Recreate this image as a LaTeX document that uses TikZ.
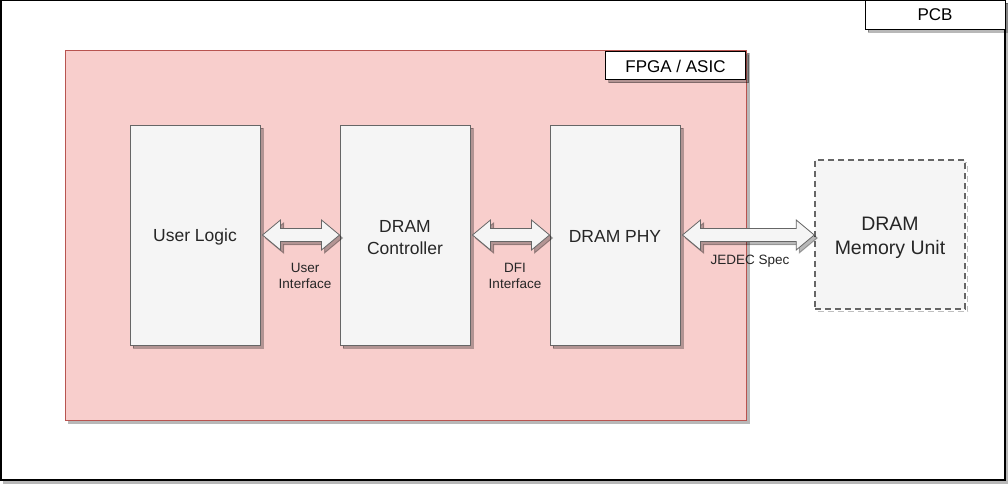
\documentclass[tikz,border=0pt]{standalone}
\usepackage{fontspec}
\setmainfont{Liberation Sans}
\usetikzlibrary{calc,shadows}

\newcommand{\flexarrow}[2]{%
  \draw [flexarr] let \p1 = (#1), \p2 = (#2) in
    (\x1, \y1) -- (\x1 + 18pt, \y1 + 15pt) -- (\x1 + 18pt, \y1 + 6.5pt)
    -- (\x2 - 18pt, \y1 + 6.5pt) -- (\x2 - 18pt, \y1 + 15pt) -- (\x2, \y1)
    -- (\x2 - 18pt, \y1 - 15pt) -- (\x2 - 18pt, \y1 - 6.5pt)
    -- (\x1 + 18pt, \y1 - 6.5pt) -- (\x1 + 18pt, \y1 - 15pt) -- cycle;}

\begin{document}
\begin{tikzpicture}[x=1pt, y=-1pt,
  shadowed/.style={preaction={draw=black, fill=black, line width=1pt, opacity=0.28, transform canvas={xshift=3pt, yshift=-3pt}}},
  tag/.style={draw=black, fill=white, line width=1pt, minimum width=140, minimum height=29, inner sep=0pt, font=\fontsize{17}{20}\selectfont, shadowed},
  block/.style={draw=blockline, fill=blockfill, line width=1pt, minimum width=130, minimum height=220, inner sep=0pt, align=center, text=black!85, font=\fontsize{17.5}{22}\selectfont, shadowed},
  flexarr/.style={draw=blockline, fill=blockfill, line width=0.8pt, line join=miter, shadowed},
  lbl/.style={align=center, inner sep=0pt, text=black!85, font=\fontsize{13.5}{16}\selectfont}]
  \definecolor{pinkfill}{HTML}{F8CECC}
  \definecolor{pinkline}{HTML}{B85450}
  \definecolor{blockfill}{HTML}{F5F5F5}
  \definecolor{blockline}{HTML}{666666}
  \useasboundingbox (0, 0) rectangle (1008, 484);

  \draw [black, fill=white, line width=1.5pt, shadowed] (0.75, 0.75) rectangle (1005, 480);
  \node [tag] (pcb) at (935, 15) {PCB};

  \draw [pinkline, fill=pinkfill, line width=1pt, shadowed] (65.5, 50.5) rectangle (746, 420);
  \node [tag, minimum height=28] (fpga) at (675.5, 66) {FPGA / ASIC};

  \node [block] (logic) at (195, 235) {\rule{0pt}{16pt}User Logic};
  \node [block] (ctrl) at (405, 235) {\rule{0pt}{17pt}DRAM\\Controller};
  \node [block] (phy) at (615, 235) {\rule{0pt}{15pt}DRAM PHY};
  \node [draw=blockline, fill=blockfill, dash pattern=on 6pt off 4pt, line width=1.5pt,
    preaction={draw=black, opacity=0.25, dash pattern=on 6pt off 4pt, line width=1.5pt, transform canvas={xshift=2.5pt, yshift=-2.5pt}},
    minimum width=150, minimum height=149, inner sep=0pt, align=center, text=black!85, font=\fontsize{19.5}{24}\selectfont] (mem) at (890, 234.5) {\rule{0pt}{21pt}DRAM\\Memory Unit};

  \flexarrow{$(logic.east) + (2, 0)$}{ctrl.west}
  \flexarrow{$(ctrl.east) + (2, 0)$}{phy.west}
  \flexarrow{$(phy.east) + (2, 0)$}{mem.west}

  \node [lbl] (ui) at (305, 276) {User\\Interface};
  \node [lbl] (dfi) at (515, 276) {DFI\\Interface};
  \node [lbl] (jedec) at (750, 261) {JEDEC Spec};
\end{tikzpicture}
\end{document}
